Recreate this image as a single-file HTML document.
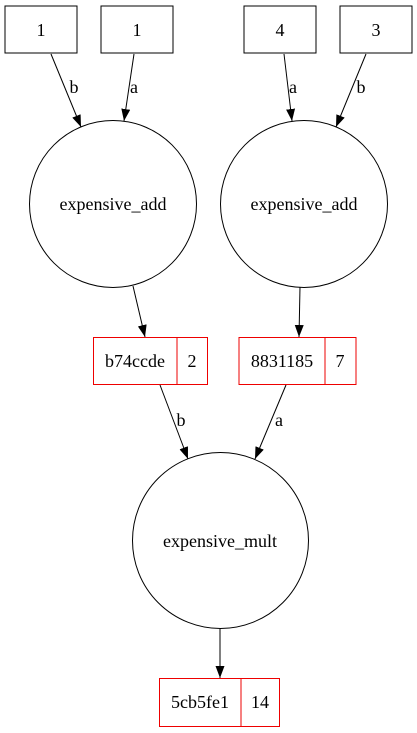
<!DOCTYPE html>
<html><head><style>body{margin:0;background:#fff}svg{display:block}</style></head>
<body>
<svg width="417" height="733" viewBox="0 0 417 733" xmlns="http://www.w3.org/2000/svg">
<defs><marker id="ar" viewBox="0 0 12 10" refX="12" refY="5" markerWidth="12" markerHeight="10" markerUnits="userSpaceOnUse" orient="auto"><path d="M0,0.5 L12,5 L0,9.5 z" fill="#000"/></marker></defs>
<g fill="none" stroke="#000" stroke-width="1">
<rect x="5" y="6" width="72" height="47"/>
<rect x="101" y="6" width="72" height="47"/>
<rect x="244" y="6" width="72" height="47"/>
<rect x="340" y="6" width="72" height="47"/>
<circle cx="113" cy="204" r="83.5"/>
<circle cx="304" cy="204" r="83.5"/>
<circle cx="220.5" cy="540.5" r="88"/>
<line x1="51" y1="54" x2="81" y2="127" marker-end="url(#ar)"/>
<line x1="134" y1="54" x2="124" y2="121" marker-end="url(#ar)"/>
<line x1="284" y1="54" x2="292" y2="121" marker-end="url(#ar)"/>
<line x1="366" y1="54" x2="336" y2="127" marker-end="url(#ar)"/>
<line x1="133" y1="286" x2="145" y2="337" marker-end="url(#ar)"/>
<line x1="300" y1="287" x2="299" y2="337" marker-end="url(#ar)"/>
<line x1="160" y1="385" x2="188" y2="459" marker-end="url(#ar)"/>
<line x1="286" y1="385" x2="255" y2="459" marker-end="url(#ar)"/>
<line x1="220" y1="629" x2="220" y2="678" marker-end="url(#ar)"/>
</g>
<g fill="none" stroke="#e00" stroke-width="1">
<rect x="93.5" y="337.5" width="114" height="47"/><line x1="177" y1="337.5" x2="177" y2="384.5"/>
<rect x="239" y="337.5" width="117" height="47"/><line x1="325" y1="337.5" x2="325" y2="384.5"/>
<rect x="159.5" y="678.5" width="120" height="48"/><line x1="241" y1="678.5" x2="241" y2="726.5"/>
</g>
<g text-anchor="middle" font-family="Liberation Serif, serif" font-size="18" style="font-family:'Liberation Serif',serif;font-size:18px">
<text x="41" y="36">1</text><text x="137" y="36">1</text><text x="280" y="36">4</text><text x="376" y="36">3</text>
<text x="74" y="93">b</text><text x="134" y="93">a</text><text x="293" y="93">a</text><text x="361" y="93">b</text>
<text x="113" y="210">expensive_add</text><text x="304" y="210">expensive_add</text>
<text x="135" y="367">b74ccde</text><text x="192" y="367">2</text>
<text x="282" y="367">8831185</text><text x="340" y="367">7</text>
<text x="181" y="426">b</text><text x="279" y="426">a</text>
<text x="220" y="547">expensive_mult</text>
<text x="200" y="708">5cb5fe1</text><text x="260" y="708">14</text>
</g>
</svg>
</body></html>
